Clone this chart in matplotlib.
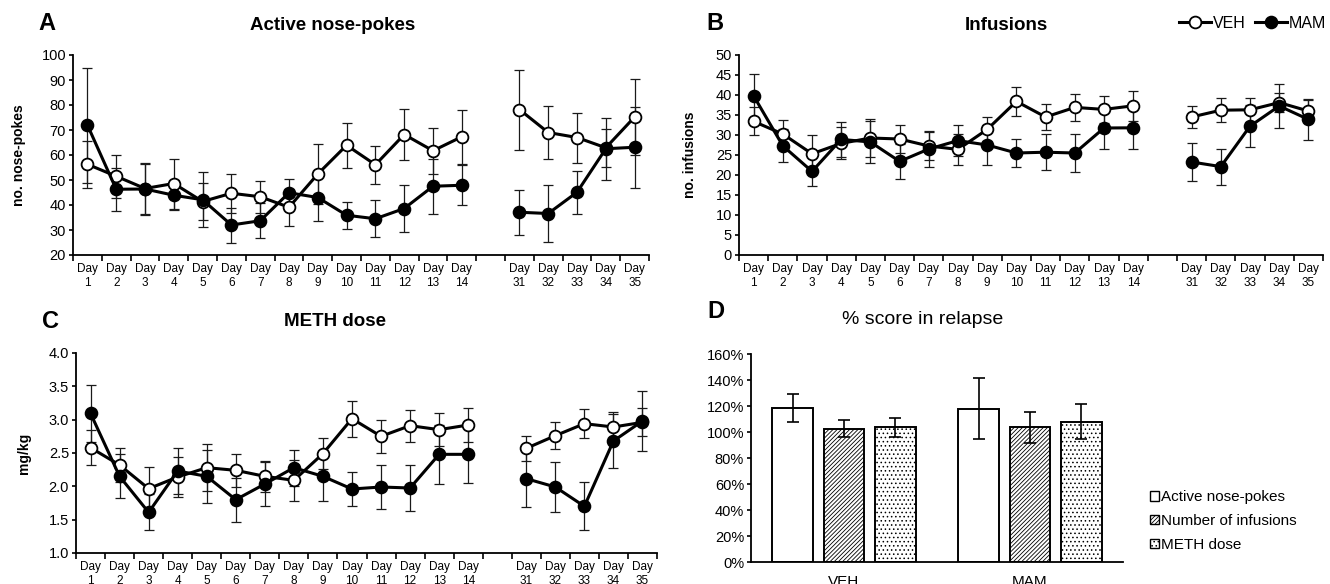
import numpy as np
import matplotlib
matplotlib.use("Agg")
import matplotlib.pyplot as plt
from matplotlib.lines import Line2D
from matplotlib.patches import Patch
from matplotlib.ticker import FormatStrFormatter, PercentFormatter

plt.rcParams['font.family'] = ['Liberation Sans', 'DejaVu Sans']
plt.rcParams['hatch.linewidth'] = 0.6
plt.rcParams['hatch.color'] = '#333333'

# days (training 1-14, relapse 31-35)
days = list(range(1, 15)) + list(range(31, 36))

# A - active nose-pokes
veh_np = [56.3, 51.5, 46.6, 48.6, 41.4, 44.7, 43.3, 39.1, 52.4, 63.9, 56.1, 68.2, 61.7, 67.3, 78.2, 69.0, 67.0, 62.9, 75.2]
veh_np_err = [9.5, 8.5, 10, 10, 7.5, 7.7, 6.3, 7.5, 12, 9, 7.6, 10.3, 9.3, 10.7, 16, 10.7, 10, 7.6, 15.3]
mam_np = [72.0, 46.3, 46.4, 43.9, 42.1, 32.0, 33.7, 44.9, 43.0, 35.9, 34.5, 38.6, 47.5, 47.9, 37.1, 36.6, 45.1, 62.5, 63.1]
mam_np_err = [23, 8.5, 10.5, 6, 11, 7, 7, 5.7, 9.5, 5.3, 7.4, 9.3, 11, 8, 9, 11.3, 8.5, 12.5, 16.3]

# B - infusions
veh_inf = [33.4, 30.25, 25.3, 27.9, 29.25, 29.0, 27.25, 26.4, 31.4, 38.4, 34.5, 36.9, 36.4, 37.3, 34.5, 36.2, 36.3, 38.1, 36.0]
veh_inf_err = [3.5, 3.4, 4.7, 4, 4.7, 3.4, 3.4, 3.8, 3, 3.6, 3.2, 3.3, 3.3, 3.7, 2.7, 3, 3, 2.4, 2.8]
mam_inf = [39.8, 27.3, 20.9, 28.9, 28.25, 23.4, 26.5, 28.6, 27.5, 25.5, 25.7, 25.5, 31.75, 31.8, 23.25, 22.1, 32.2, 37.25, 33.9]
mam_inf_err = [5.5, 4.1, 3.6, 4.4, 5.3, 4.3, 4.4, 3.8, 5, 3.5, 4.5, 4.7, 5.3, 5.3, 4.7, 4.5, 5.2, 5.6, 5.2]

# C - METH dose (mg/kg)
veh_dose = [2.58, 2.32, 1.965, 2.14, 2.28, 2.24, 2.15, 2.09, 2.49, 3.015, 2.75, 2.91, 2.85, 2.92, 2.57, 2.76, 2.94, 2.89, 2.96]
veh_dose_err = [0.26, 0.26, 0.33, 0.3, 0.35, 0.25, 0.23, 0.31, 0.23, 0.27, 0.25, 0.24, 0.25, 0.25, 0.19, 0.2, 0.22, 0.22, 0.21]
mam_dose = [3.095, 2.15, 1.61, 2.23, 2.15, 1.80, 2.035, 2.28, 2.15, 1.96, 1.99, 1.975, 2.48, 2.48, 2.115, 1.99, 1.70, 2.68, 2.98]
mam_dose_err = [0.43, 0.33, 0.27, 0.34, 0.4, 0.33, 0.33, 0.27, 0.37, 0.25, 0.33, 0.35, 0.44, 0.43, 0.43, 0.37, 0.36, 0.41, 0.45]

# D - % score in relapse
groups = ["VEH", "MAM"]
bar_names = ["Active nose-pokes", "Number of infusions", "METH dose"]
score_active = [118.5, 118]
score_active_err = [10.5, 23.5]
score_inf = [102.5, 103.5]
score_inf_err = [6.5, 12]
score_dose = [103.5, 108]
score_dose_err = [7, 13.5]

W, H = 1330, 584
fig = plt.figure(figsize=(W / 100, H / 100), dpi=100)


def px_axes(left, top, right, bottom):
    return fig.add_axes([left / W, 1 - bottom / H, (right - left) / W, (bottom - top) / H])


# one empty slot between day 14 and day 31
xpos = [i if i < 14 else i + 1 for i in range(len(days))]


def line_panel(ax, veh, veh_err, mam, mam_err, ylim, step, ylabel, lab_x):
    for vals, errs in [(veh, veh_err), (mam, mam_err)]:
        ax.errorbar(xpos, vals, yerr=errs, fmt='none', ecolor='#1a1a1a',
                    elinewidth=0.9, capsize=3.5, capthick=0.9, zorder=2)
    for vals, face, z in [(veh, 'white', 3), (mam, 'black', 4)]:
        for seg in (slice(0, 14), slice(14, 19)):
            ax.plot(xpos[seg], vals[seg], color='black', lw=2.2, marker='o', ms=8.5,
                    mfc=face, mec='black', mew=1.3, zorder=z)
    ax.set_xlim(-0.5, 19.5)
    ax.set_ylim(*ylim)
    ax.set_yticks(np.arange(ylim[0], ylim[1] + step / 2, step))
    ax.set_xticks(xpos)
    ax.set_xticklabels(["Day\n%d" % d for d in days], fontsize=8.5, linespacing=1.15)
    ax.set_xticks(np.arange(-0.5, 20, 1), minor=True)
    ax.tick_params(axis='x', which='major', length=0, pad=6)
    ax.tick_params(axis='x', which='minor', length=4, width=1.2, direction='out')
    ax.tick_params(axis='y', length=3, width=1.2, labelsize=10.5, pad=2)
    for s in ['top', 'right']:
        ax.spines[s].set_visible(False)
    for s in ['left', 'bottom']:
        ax.spines[s].set_linewidth(1.3)
    ax.set_ylabel(ylabel, fontsize=10, fontweight='bold')
    ax.yaxis.set_label_coords(lab_x, 0.5)


axA = px_axes(73, 55, 649, 255)
line_panel(axA, veh_np, veh_np_err, mam_np, mam_np_err, (20, 100), 10, "no. nose-pokes", -0.082)

axB = px_axes(739, 55, 1323, 255)
line_panel(axB, veh_inf, veh_inf_err, mam_inf, mam_inf_err, (0, 50), 5, "no. infusions", -0.072)

axC = px_axes(76, 353, 657, 553)
line_panel(axC, veh_dose, veh_dose_err, mam_dose, mam_dose_err, (1.0, 4.0), 0.5, "mg/kg", -0.077)
axC.yaxis.set_major_formatter(FormatStrFormatter('%.1f'))

#bar panel
axD = px_axes(751, 354, 1123, 562)
x = np.arange(len(groups))
offs = 0.275
bw = 0.22
hatches = [None, '////////', '....']
for i, (vals, errs) in enumerate([(score_active, score_active_err), (score_inf, score_inf_err),
                                  (score_dose, score_dose_err)]):
    axD.bar(x + (i - 1) * offs, vals, bw, yerr=errs, color='white', edgecolor='black',
            hatch=hatches[i], lw=1.4, capsize=4, error_kw=dict(elinewidth=1.2, capthick=1.2))
axD.set_xlim(-0.5, 1.5)
axD.set_ylim(0, 160)
axD.set_yticks(np.arange(0, 161, 20))
axD.yaxis.set_major_formatter(PercentFormatter(100, decimals=0))
axD.set_xticks(x)
axD.set_xticklabels(groups, fontsize=11)
axD.tick_params(axis='x', length=0, pad=9)
axD.tick_params(axis='y', length=3, width=1.2, labelsize=10.5, pad=2)
for s in ['top', 'right']:
    axD.spines[s].set_visible(False)
for s in ['left', 'bottom']:
    axD.spines[s].set_linewidth(1.3)

bar_handles = [Patch(facecolor='white', edgecolor='black', hatch=h) for h in hatches]
axD.legend(bar_handles, bar_names, loc='center left', bbox_to_anchor=(1150 / W, 1 - 521 / H),
           bbox_transform=fig.transFigure, frameon=False, fontsize=11, handlelength=0.6,
           handleheight=0.6, handletextpad=0.15, labelspacing=0.65, borderpad=0, borderaxespad=0)

# group legend (top right)
grp_handles = [Line2D([], [], color='black', lw=2.2, marker='o', ms=8.5, mfc=f, mec='black', mew=1.3)
               for f in ['white', 'black']]
fig.legend(grp_handles, groups, loc='center right', bbox_to_anchor=(1326 / W, 1 - 23 / H), ncol=2,
           frameon=False, fontsize=11.5, handlelength=2.0, handletextpad=0.1, columnspacing=0.6,
           borderpad=0, borderaxespad=0, numpoints=1)

#panel letters and titles
for lab, px, py in [("A", 38, 23), ("B", 706, 23), ("C", 42, 322), ("D", 707, 312)]:
    fig.text(px / W, 1 - py / H, lab, fontsize=17, fontweight='bold', ha='left', va='center')
for t, px, py, fw in [("Active nose-pokes", 333, 25, 'bold'), ("Infusions", 1006, 25, 'bold'),
                      ("METH dose", 335, 321, 'bold'), ("% score in relapse", 923, 320, 'normal')]:
    fig.text(px / W, 1 - py / H, t, fontsize=13.5 if fw == 'bold' else 14, fontweight=fw,
             ha='center', va='center')

fig.savefig("out.png", dpi=100)
